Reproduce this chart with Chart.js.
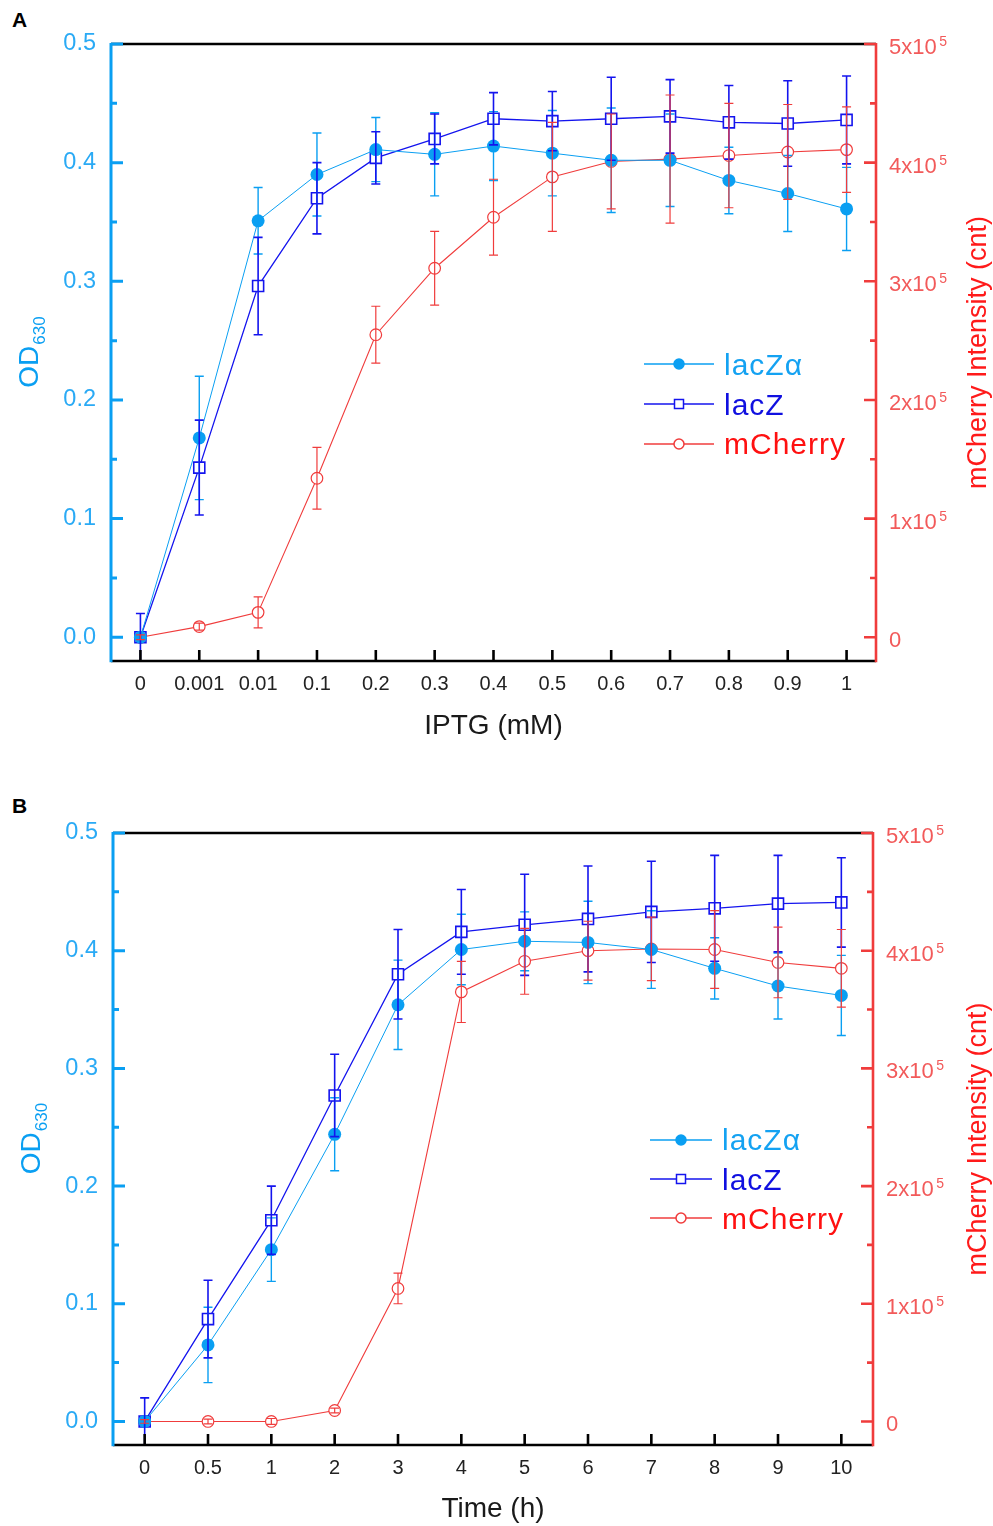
<!DOCTYPE html>
<html><head><meta charset="utf-8">
<script src="https://cdn.jsdelivr.net/npm/chart.js@4.4.1/dist/chart.umd.min.js"></script>
<style>
html,body{margin:0;padding:0;background:#fff;}
body{width:993px;height:1526px;position:relative;overflow:hidden;font-family:"Liberation Sans",Arial,sans-serif;}
canvas{position:absolute;left:0;}
#cA{top:0}
#cB{top:763px}
.lbl{position:absolute;font-weight:bold;font-size:21px;line-height:1;color:#000;}
</style></head><body>
<div class="lbl" style="left:12px;top:9px">A</div>
<div class="lbl" style="left:12px;top:795px">B</div>
<canvas id="cA" width="993" height="763"></canvas>
<canvas id="cB" width="993" height="763"></canvas>
<script>
// ---------- data ----------
const iptgLabels = ['0','0.001','0.01','0.1','0.2','0.3','0.4','0.5','0.6','0.7','0.8','0.9','1'];
const iptgLacZa = [0.000,0.168,0.351,0.390,0.411,0.407,0.414,0.408,0.402,0.402,0.385,0.374,0.361];
const iptgLacZaErr = [0.000,0.052,0.028,0.035,0.027,0.035,0.029,0.036,0.044,0.039,0.028,0.032,0.035];
const iptgLacZ = [0.000,0.143,0.296,0.370,0.404,0.420,0.437,0.435,0.437,0.439,0.434,0.433,0.436];
const iptgLacZErr = [0.020,0.040,0.041,0.030,0.022,0.021,0.022,0.025,0.035,0.031,0.031,0.036,0.037];
const iptgMCherry = [0,9000,21000,134000,255000,311000,354000,388000,401000,403000,406000,409000,411000];
const iptgMCherryErr = [2000,3000,13000,26000,24000,31000,32000,46000,40000,54000,44000,40000,36000];

const timeLabels = ['0','0.5','1','2','3','4','5','6','7','8','9','10'];
const timeLacZa = [0.000,0.065,0.146,0.244,0.354,0.401,0.408,0.407,0.401,0.385,0.370,0.362];
const timeLacZaErr = [0.000,0.032,0.027,0.031,0.038,0.030,0.025,0.035,0.033,0.026,0.028,0.034];
const timeLacZ = [0.000,0.087,0.171,0.277,0.380,0.416,0.422,0.427,0.433,0.436,0.440,0.441];
const timeLacZErr = [0.020,0.033,0.029,0.035,0.038,0.036,0.043,0.045,0.043,0.045,0.041,0.038];
const timeMCherry = [0,0,0,9300,113000,365000,391000,400000,401500,401000,390000,385000];
const timeMCherryErr = [1500,2000,2500,2000,13000,26000,28000,25000,27000,33000,30000,33000];

const odTicks = [0,0.1,0.2,0.3,0.4,0.5];
const odMinorTicks = [0.05,0.15,0.25,0.35,0.45];
const mchTicks = [0,100000,200000,300000,400000,500000];
const mchMinorTicks = [50000,150000,250000,350000,450000];
const mchTickLabels = ['0','1x10','2x10','3x10','4x10','5x10'];
const mchTickExps = ['','5','5','5','5','5'];
const seriesNames = ['lacZ\u03b1','lacZ','mCherry'];

// ---------- style ----------
const FONT = "'Liberation Sans', Arial, sans-serif";
Chart.defaults.font.family = FONT;
const LB = '#0a9ff2', DB = '#1414ee', RD = '#f03c3c';
const LB_TXT = '#2aaaf5', RD_TXT = '#f25a5a';

const errorBars = {
  id:'errorBars',
  afterDatasetsDraw(chart){
    const ctx = chart.ctx;
    chart.data.datasets.forEach((ds,i)=>{
      const meta = chart.getDatasetMeta(i);
      const ys = chart.scales[ds.yAxisID];
      ctx.save();
      ctx.strokeStyle = ds.borderColor; ctx.lineWidth = ds.errWidth;
      meta.data.forEach((pt,j)=>{
        const v = ds.data[j], e = ds.err[j];
        if (!e) return;
        const t = ys.getPixelForValue(v+e), b = ys.getPixelForValue(v-e), x = pt.x;
        ctx.beginPath();
        ctx.moveTo(x,t); ctx.lineTo(x,b);
        ctx.moveTo(x-4.5,t); ctx.lineTo(x+4.5,t);
        ctx.moveTo(x-4.5,b); ctx.lineTo(x+4.5,b);
        ctx.stroke();
      });
      ctx.restore();
    });
  }
};

const frame = {
  id:'frame',
  afterDraw(chart, args, o){
    const ctx = chart.ctx, ca = chart.chartArea;
    const xs = chart.scales.x, yl = chart.scales.y, yr = chart.scales.y2;
    ctx.save();
    ctx.lineCap = 'butt';
    // top & bottom
    ctx.strokeStyle = '#000'; ctx.lineWidth = 2.6;
    ctx.beginPath(); ctx.moveTo(ca.left, ca.top); ctx.lineTo(ca.right, ca.top);
    ctx.moveTo(ca.left, ca.bottom); ctx.lineTo(ca.right, ca.bottom); ctx.stroke();
    ctx.beginPath();
    xs.ticks.forEach((t,i)=>{ const x = xs.getPixelForTick(i); ctx.moveTo(x, ca.bottom); ctx.lineTo(x, ca.bottom-11); });
    ctx.stroke();
    // left axis
    ctx.strokeStyle = LB; ctx.lineWidth = 3;
    ctx.beginPath(); ctx.moveTo(ca.left, ca.top-1); ctx.lineTo(ca.left, ca.bottom+1.3);
    odTicks.forEach(v=>{ const y = yl.getPixelForValue(v); ctx.moveTo(ca.left, y); ctx.lineTo(ca.left+12, y); });
    odMinorTicks.forEach(v=>{ const y = yl.getPixelForValue(v); ctx.moveTo(ca.left, y); ctx.lineTo(ca.left+6, y); });
    ctx.stroke();
    // right axis
    ctx.strokeStyle = RD; ctx.lineWidth = 2.6;
    ctx.beginPath(); ctx.moveTo(ca.right, ca.top-1); ctx.lineTo(ca.right, ca.bottom+1.3);
    mchTicks.forEach(v=>{ const y = yr.getPixelForValue(v); ctx.moveTo(ca.right, y); ctx.lineTo(ca.right-12, y); });
    mchMinorTicks.forEach(v=>{ const y = yr.getPixelForValue(v); ctx.moveTo(ca.right, y); ctx.lineTo(ca.right-6, y); });
    ctx.stroke();
    // right tick labels with superscript exponent
    ctx.fillStyle = RD_TXT; ctx.textAlign = 'left'; ctx.textBaseline = 'alphabetic';
    mchTicks.forEach((v,i)=>{
      const y = yr.getPixelForValue(v), x = ca.right + 13;
      ctx.font = '22px ' + FONT;
      ctx.fillText(mchTickLabels[i], x, y + 10);
      const w = ctx.measureText(mchTickLabels[i]).width;
      if (mchTickExps[i]) { ctx.font = '14px ' + FONT; ctx.fillText(mchTickExps[i], x + w + 2.5, y + 2); }
    });
    // axis titles
    const cy = (ca.top+ca.bottom)/2;
    ctx.save();
    ctx.translate(o.odX, cy); ctx.rotate(-Math.PI/2);
    ctx.fillStyle = LB; ctx.textBaseline = 'alphabetic'; ctx.textAlign = 'left';
    ctx.font = '28px ' + FONT; const w1 = ctx.measureText('OD').width;
    ctx.font = '17px ' + FONT; const w2 = ctx.measureText('630').width;
    const sx = -(w1+w2)/2;
    ctx.font = '28px ' + FONT; ctx.fillText('OD', sx, 0);
    ctx.font = '17px ' + FONT; ctx.fillText('630', sx+w1+1, 7);
    ctx.restore();
    ctx.save();
    ctx.translate(o.rtX, cy); ctx.rotate(-Math.PI/2);
    ctx.fillStyle = '#ff1a1a'; ctx.textAlign = 'center'; ctx.textBaseline = 'middle';
    ctx.font = '27px ' + FONT;
    ctx.fillText('mCherry Intensity (cnt)', 0, 0);
    ctx.restore();
    // legend
    const L = o.legend;
    chart.data.datasets.forEach((ds,i)=>{
      const y = L.rows[i];
      ctx.strokeStyle = ds.borderColor; ctx.lineWidth = 1.3;
      ctx.beginPath(); ctx.moveTo(L.x0, y); ctx.lineTo(L.x1, y); ctx.stroke();
      ctx.lineWidth = 1.5;
      if (ds.pointStyle === 'circle') {
        ctx.beginPath(); ctx.arc(L.xm, y, ds.legendR, 0, Math.PI*2);
        ctx.fillStyle = ds.pointBackgroundColor; ctx.fill(); ctx.stroke();
      } else {
        ctx.fillStyle = '#fff';
        ctx.fillRect(L.xm-4.5, y-4.5, 9, 9); ctx.strokeRect(L.xm-4.5, y-4.5, 9, 9);
      }
      ctx.fillStyle = ds.legendColor; ctx.font = '30px ' + FONT;
      ctx.textAlign = 'left'; ctx.textBaseline = 'alphabetic';
      ctx.letterSpacing = '1px';
      ctx.fillText(ds.label, L.xt, L.base[i]);
      ctx.letterSpacing = '0px';
    });
    ctx.restore();
  }
};

function makeChart(id, labels, a, aErr, z, zErr, m, mErr, g){
  return new Chart(document.getElementById(id), {
    type:'line',
    data:{ labels, datasets:[
      { label:seriesNames[0], data:a, err:aErr, errWidth:1.4, yAxisID:'y', borderColor:LB, borderWidth:1,
        pointStyle:'circle', pointRadius:6.5, pointBackgroundColor:LB, pointBorderColor:LB, pointBorderWidth:0,
        legendR:5, legendColor:'#14a2f2' },
      { label:seriesNames[1], data:z, err:zErr, errWidth:1.6, yAxisID:'y', borderColor:DB, borderWidth:1.3,
        pointStyle:'rect', pointRadius:7.8, pointBackgroundColor:'#fff', pointBorderColor:DB, pointBorderWidth:1.6,
        legendColor:'#1010e0' },
      { label:seriesNames[2], data:m, err:mErr, errWidth:1.2, yAxisID:'y2', borderColor:RD, borderWidth:1.1,
        pointStyle:'circle', pointRadius:5.8, pointBackgroundColor:'#fff', pointBorderColor:RD, pointBorderWidth:1.2,
        legendR:5, legendColor:'#ff1010' }
    ]},
    options:{
      responsive:false, animation:false, devicePixelRatio:1,
      layout:{ padding:{ top:g.padTop, left:0, right:0, bottom:0 } },
      plugins:{ legend:{display:false}, tooltip:{enabled:false}, title:{display:false},
        frame:{ odX:g.odX, rtX:g.rtX, legend:g.legend } },
      scales:{
        x:{ type:'category', offset:true,
            grid:{display:false, drawTicks:false}, border:{display:false},
            ticks:{ color:'#222', font:{size:20}, padding:11, maxRotation:0, autoSkip:false },
            title:{ display:true, text:g.xTitle, color:'#1a1a1a', font:{size:28, lineHeight:1}, padding:{top:0, bottom:g.xTitlePad} },
            afterFit(s){ s.height = g.xH; } },
        y:{ position:'left', min:-0.02, max:0.5,
            afterBuildTicks(s){ s.ticks = odTicks.map(v=>({value:v})); },
            grid:{display:false, drawTicks:false}, border:{display:false},
            ticks:{ color:LB_TXT, font:{size:23.5}, padding:15, callback:(v)=>Number(v).toFixed(1) },
            afterFit(s){ s.width = g.yLW; } },
        y2:{ position:'right', min:-20000, max:500000,
            afterBuildTicks(s){ s.ticks = mchTicks.map(v=>({value:v})); },
            grid:{display:false, drawTicks:false}, border:{display:false},
            ticks:{ display:false },
            afterFit(s){ s.width = g.yRW; } }
      }
    },
    plugins:[errorBars, frame]
  });
}

makeChart('cA', iptgLabels, iptgLacZa, iptgLacZaErr, iptgLacZ, iptgLacZErr, iptgMCherry, iptgMCherryErr, {
  padTop:44, xH:102, yLW:111, yRW:117, xTitle:'IPTG (mM)', xTitlePad:23, odX:38, rtX:979,
  legend:{ x0:644, x1:714, xm:679, xt:724, rows:[364,404,444], base:[375,415,454] }
});
makeChart('cB', timeLabels, timeLacZa, timeLacZaErr, timeLacZ, timeLacZErr, timeMCherry, timeMCherryErr, {
  padTop:70, xH:81, yLW:113, yRW:120, xTitle:'Time (h)', xTitlePad:3, odX:40, rtX:979,
  legend:{ x0:650, x1:712, xm:681, xt:722, rows:[377,416,455], base:[387,427,466] }
});
</script>
</body></html>
